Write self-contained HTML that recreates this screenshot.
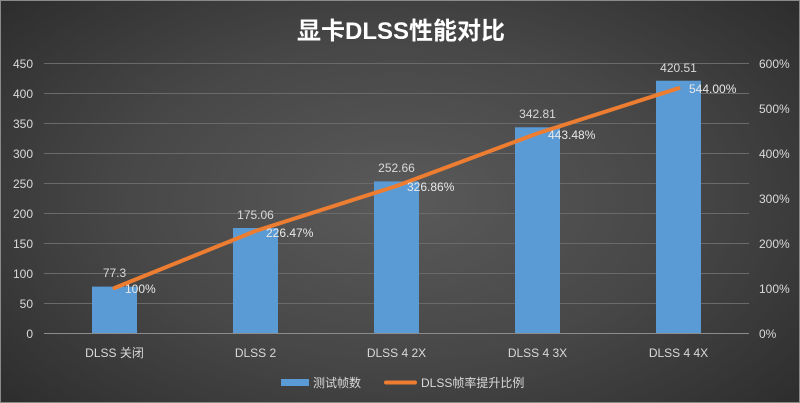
<!DOCTYPE html>
<html><head><meta charset="utf-8"><style>
body{margin:0}
#c{width:800px;height:403px;position:relative;overflow:hidden;box-sizing:border-box;border:1px solid #8a8a8a;
background:radial-gradient(ellipse 70% 80% at 50% 50%,#5a5a5a 0%,#474747 50%,#2a2a2a 100%);
font-family:"Liberation Sans","Noto Sans CJK SC",sans-serif}
</style></head><body><div id="c">
<svg width="800" height="403" style="position:absolute;left:0;top:0" font-family="Liberation Sans, Noto Sans CJK SC, sans-serif">
<text x="400" y="38" fill="#fff" font-size="24" font-weight="bold" text-anchor="middle">显卡DLSS性能对比</text>
<g stroke="#6a6a6a" stroke-width="1">
<line x1="43" x2="748" y1="62.5" y2="62.5"/><line x1="43" x2="748" y1="92.5" y2="92.5"/><line x1="43" x2="748" y1="122.5" y2="122.5"/>
<line x1="43" x2="748" y1="152.5" y2="152.5"/><line x1="43" x2="748" y1="182.5" y2="182.5"/><line x1="43" x2="748" y1="212.5" y2="212.5"/>
<line x1="43" x2="748" y1="242.5" y2="242.5"/><line x1="43" x2="748" y1="272.5" y2="272.5"/><line x1="43" x2="748" y1="302.5" y2="302.5"/>
</g>
<g fill="#5b9bd5">
<rect x="91" y="285.6" width="45" height="46.4"/><rect x="232" y="227" width="45" height="105"/>
<rect x="373" y="180.4" width="45" height="151.6"/><rect x="514" y="126.3" width="45" height="205.7"/>
<rect x="655" y="79.7" width="45" height="252.3"/></g>
<line x1="43" x2="748" y1="332.5" y2="332.5" stroke="#8c8c8c"/>
<polyline points="113.5,287 254.5,230 395.5,185 536.5,132.4 677.5,87.2" fill="none" stroke="#ed7d31" stroke-width="4" stroke-linecap="round" stroke-linejoin="round"/>
<g fill="#d9d9d9" font-size="12" text-anchor="end">
<text x="32" y="67">450</text><text x="32" y="97">400</text><text x="32" y="127">350</text><text x="32" y="157">300</text>
<text x="32" y="187">250</text><text x="32" y="217">200</text><text x="32" y="247">150</text><text x="32" y="277">100</text>
<text x="32" y="307">50</text><text x="32" y="337">0</text></g>
<g fill="#d9d9d9" font-size="12">
<text x="758" y="67">600%</text><text x="758" y="112">500%</text><text x="758" y="157">400%</text><text x="758" y="202">300%</text>
<text x="758" y="247">200%</text><text x="758" y="292">100%</text><text x="758" y="337">0%</text></g>
<g fill="#d9d9d9" font-size="12" text-anchor="middle">
<text x="113.5" y="356">DLSS 关闭</text><text x="254.5" y="356">DLSS 2</text><text x="395.5" y="356">DLSS 4 2X</text>
<text x="536.5" y="356">DLSS 4 3X</text><text x="677.5" y="356">DLSS 4 4X</text>
<text x="113.5" y="276">77.3</text><text x="254.5" y="218">175.06</text><text x="395.5" y="171">252.66</text>
<text x="536.5" y="117">342.81</text><text x="677.5" y="71">420.51</text></g>
<g fill="#e8e8e8" font-size="12">
<text x="124" y="292">100%</text><text x="265" y="236">226.47%</text><text x="406" y="190">326.86%</text>
<text x="547" y="138">443.48%</text><text x="688" y="92">544.00%</text></g>
<rect x="280" y="378" width="28" height="7" fill="#5b9bd5"/>
<text x="312" y="386" fill="#d9d9d9" font-size="12">测试帧数</text>
<line x1="385" x2="414" y1="381.5" y2="381.5" stroke="#ed7d31" stroke-width="4" stroke-linecap="round"/>
<text x="420" y="386" fill="#d9d9d9" font-size="12">DLSS帧率提升比例</text>
</svg></div></body></html>
